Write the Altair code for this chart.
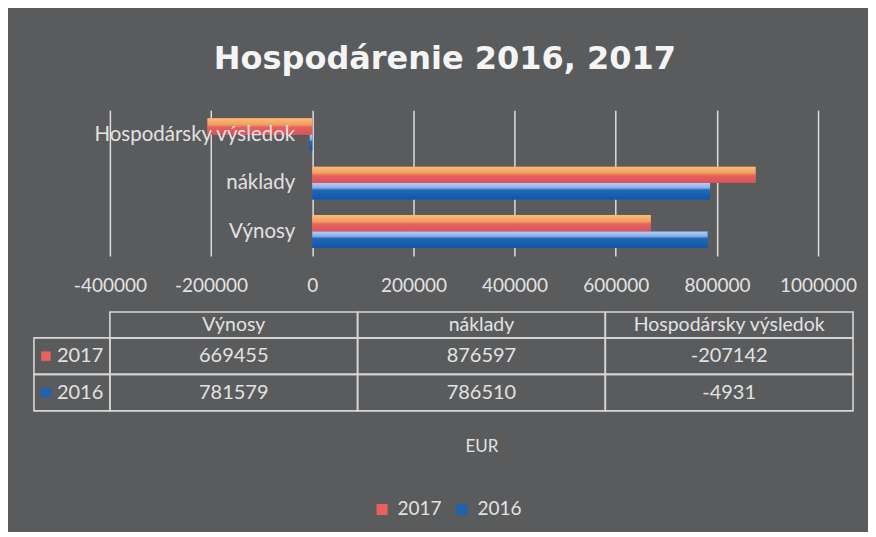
import altair as alt
import pandas as pd

# ---- data ----
categories = ["Výnosy", "náklady", "Hospodársky výsledok"]
years = ["2017", "2016"]
values_2017 = [669455, 876597, -207142]
values_2016 = [781579, 786510, -4931]
x_ticks = [-400000, -200000, 0, 200000, 400000, 600000, 800000, 1000000]
chart_title = "Hospodárenie 2016, 2017"
unit_label = "EUR"

rows = []
for yr, vals in (("2017", values_2017), ("2016", values_2016)):
    for c, v in zip(categories, vals):
        rows.append({"category": c, "year": yr, "value": v})
df = pd.DataFrame(rows)
cat_df = pd.DataFrame({"category": categories})
year_df = pd.DataFrame({"year": years})

# ---- styles ----
BG = "#5a5b5d"
FONT = "Lato"
TXT = "#e2e2e2"
GRID = "#dcdcdc"
LINE = "#d6d6d6"
RED = "#e8615a"
BLUE = "#1c63b3"

cat_order = categories[::-1]

color_scale = alt.Scale(domain=years, range=[RED, BLUE])
legend = alt.Legend(orient="none", legendX=263, legendY=390, direction="horizontal",
                    title=None, symbolType="square", symbolSize=121, symbolStrokeWidth=0,
                    labelFontSize=19, labelFont=FONT, labelColor=TXT,
                    columnPadding=10, labelOffset=6)

x_enc = alt.X("value:Q",
              scale=alt.Scale(domain=[-400000, 1000000], nice=False, zero=False),
              axis=alt.Axis(values=x_ticks, labelExpr="'' + datum.value", grid=True,
                            gridColor=GRID, gridWidth=1.5, domain=False, ticks=False,
                            labelFontSize=19, labelFont=FONT, labelColor=TXT,
                            labelOverlap=False, labelFlush=False,
                            labelPadding=21, title=None))
y_enc = alt.Y("category:N", sort=cat_order,
              scale=alt.Scale(paddingInner=0.32, paddingOuter=0.165), axis=None)
yoff = alt.YOffset("year:N", sort=years, scale=alt.Scale(paddingInner=0, paddingOuter=0))

base = alt.Chart(df).encode(x=x_enc, y=y_enc, yOffset=yoff)

bars = base.mark_bar().encode(
    color=alt.Color("year:N", sort=years, scale=color_scale, legend=legend))

grad17 = alt.LinearGradient(
    gradient="linear", x1=0, x2=0, y1=0, y2=1,
    stops=[alt.GradientStop(color="#f8bd74", offset=0),
           alt.GradientStop(color="#f2a063", offset=0.38),
           alt.GradientStop(color="#e5625c", offset=0.55),
           alt.GradientStop(color="#d8525c", offset=1)])
grad16 = alt.LinearGradient(
    gradient="linear", x1=0, x2=0, y1=0, y2=1,
    stops=[alt.GradientStop(color="#b2cbf2", offset=0),
           alt.GradientStop(color="#8db0e6", offset=0.28),
           alt.GradientStop(color="#2168b8", offset=0.42),
           alt.GradientStop(color="#0f57a6", offset=1)])

bars17 = base.transform_filter("datum.year == '2017'").mark_bar(color=grad17)
bars16 = base.transform_filter("datum.year == '2016'").mark_bar(color=grad16)

cat_labels = alt.Chart(cat_df).mark_text(
    align="right", baseline="middle", dx=-17, fontSize=20.5, font=FONT, color=TXT
).encode(x=alt.datum(0), y=alt.Y("category:N", sort=cat_order), text="category:N")

bar_chart = alt.layer(bars, bars17, bars16, cat_labels).properties(width=709, height=146)

# ---- data table ----
xt = alt.X("category:N", sort=categories,
           scale=alt.Scale(paddingInner=0, paddingOuter=0),
           axis=alt.Axis(title=unit_label, labels=False, ticks=False, domain=False, grid=False,
                         titleFontSize=17, titleFont=FONT, titleColor=TXT,
                         titleFontWeight="normal", titlePadding=28))
yt = alt.Y("year:N", sort=years, scale=alt.Scale(paddingInner=0, paddingOuter=0), axis=None)

cells = alt.Chart(df).mark_rect(fill="transparent", stroke=LINE, strokeWidth=1.6).encode(x=xt, y=yt)
values_txt = alt.Chart(df).transform_calculate(label="'' + datum.value").mark_text(
    fontSize=20, font=FONT, color=TXT, baseline="middle").encode(x=xt, y=yt, text="label:N")

hdr_cells = alt.Chart(cat_df).mark_rect(fill="transparent", stroke=LINE, strokeWidth=1.6).encode(
    x=alt.X("category:N", sort=categories), y=alt.value(-26), y2=alt.value(0))
hdr_txt = alt.Chart(cat_df).mark_text(fontSize=19.5, font=FONT, color=TXT, baseline="middle").encode(
    x=alt.X("category:N", sort=categories), y=alt.value(-13), text="category:N")

lab_cells = alt.Chart(year_df).mark_rect(fill="transparent", stroke=LINE, strokeWidth=1.6).encode(
    y=alt.Y("year:N", sort=years), x=alt.value(-76), x2=alt.value(0))
lab_swatch = alt.Chart(year_df).mark_square(size=90, opacity=1).encode(
    y=alt.Y("year:N", sort=years), x=alt.value(-64),
    color=alt.Color("year:N", sort=years, scale=color_scale, legend=legend))
lab_txt = alt.Chart(year_df).mark_text(align="left", baseline="middle", fontSize=20,
                                       font=FONT, color=TXT).encode(
    y=alt.Y("year:N", sort=years), x=alt.value(-53), text="year:N")

table_chart = alt.layer(cells, values_txt, hdr_cells, hdr_txt, lab_cells, lab_swatch, lab_txt
                        ).properties(width=744, height=73)

chart = alt.vconcat(bar_chart, table_chart, spacing=15).properties(
    title=alt.Title(chart_title, fontSize=32, font="DejaVu Sans", fontWeight="bold",
                    color="#f4f4f4", anchor="middle", offset=34),
    padding={"left": 25, "right": 11, "top": 35, "bottom": 12},
    background=BG,
).configure(font=FONT, view=alt.ViewConfig(stroke=None))

chart.save("out.html", embed_options={"renderer": "svg", "actions": False})
